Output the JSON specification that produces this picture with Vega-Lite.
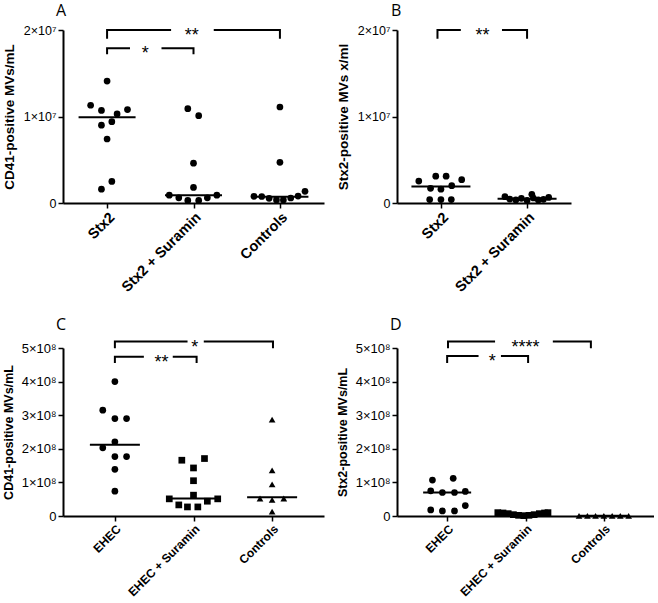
{
  "$schema": "https://vega.github.io/schema/vega-lite/v6.json",
  "background": "white",
  "padding": {"left": 2, "top": 3, "right": 0, "bottom": 0},
  "columns": 2,
  "bounds": "flush",
  "spacing": {"row": 145, "column": 73},
  "config": {
    "font": "Liberation Sans",
    "view": {"stroke": null},
    "axis": {"domainColor": "black", "domainWidth": 2, "tickColor": "black", "tickWidth": 1.5, "tickSize": 5, "labelColor": "black", "titleColor": "black", "labelFont": "Liberation Sans", "titleFont": "Liberation Sans", "grid": false},
    "title": {"font": "Open Sans", "fontWeight": "normal", "fontSize": 16, "anchor": "start", "frame": "group", "color": "black"}
  },
  "datasets": {
    "A_pts": [
      {"g": "Stx2", "o": 0, "v": 14100000}, {"g": "Stx2", "o": -0.19, "v": 11300000}, {"g": "Stx2", "o": -0.065, "v": 10700000}, {"g": "Stx2", "o": 0.116, "v": 10300000}, {"g": "Stx2", "o": 0.236, "v": 10800000}, {"g": "Stx2", "o": -0.065, "v": 9000000}, {"g": "Stx2", "o": 0.055, "v": 9400000}, {"g": "Stx2", "o": 0, "v": 7400000}, {"g": "Stx2", "o": -0.065, "v": 1600000}, {"g": "Stx2", "o": 0.055, "v": 2500000},
      {"g": "Stx2 + Suramin", "o": -0.066, "v": 10900000}, {"g": "Stx2 + Suramin", "o": 0.06, "v": 10100000}, {"g": "Stx2 + Suramin", "o": 0, "v": 4600000}, {"g": "Stx2 + Suramin", "o": 0, "v": 1800000}, {"g": "Stx2 + Suramin", "o": -0.28, "v": 900000}, {"g": "Stx2 + Suramin", "o": -0.17, "v": 600000}, {"g": "Stx2 + Suramin", "o": -0.066, "v": 300000}, {"g": "Stx2 + Suramin", "o": 0.06, "v": 300000}, {"g": "Stx2 + Suramin", "o": 0.16, "v": 600000}, {"g": "Stx2 + Suramin", "o": 0.27, "v": 900000},
      {"g": "Controls", "o": 0, "v": 11100000}, {"g": "Controls", "o": 0, "v": 4700000}, {"g": "Controls", "o": -0.3, "v": 770000}, {"g": "Controls", "o": -0.21, "v": 750000}, {"g": "Controls", "o": -0.125, "v": 540000}, {"g": "Controls", "o": -0.04, "v": 350000}, {"g": "Controls", "o": 0.04, "v": 350000}, {"g": "Controls", "o": 0.125, "v": 580000}, {"g": "Controls", "o": 0.21, "v": 800000}, {"g": "Controls", "o": 0.29, "v": 1350000}
    ],
    "A_med": [{"g": "Stx2", "v": 9900000}, {"g": "Stx2 + Suramin", "v": 900000}, {"g": "Controls", "v": 730000}],
    "A_br": [
      {"s": "t1", "k": 0, "g": "Stx2", "o": 0, "v": 19000000}, {"s": "t1", "k": 1, "g": "Stx2", "o": 0, "v": 20000000}, {"s": "t1", "k": 2, "g": "Stx2", "o": 0.74, "v": 20000000},
      {"s": "t2", "k": 0, "g": "Controls", "o": -0.765, "v": 20000000}, {"s": "t2", "k": 1, "g": "Controls", "o": 0, "v": 20000000}, {"s": "t2", "k": 2, "g": "Controls", "o": 0, "v": 19000000},
      {"s": "b1", "k": 0, "g": "Stx2", "o": 0, "v": 17200000}, {"s": "b1", "k": 1, "g": "Stx2", "o": 0, "v": 17900000}, {"s": "b1", "k": 2, "g": "Stx2", "o": 0.265, "v": 17900000},
      {"s": "b2", "k": 0, "g": "Stx2 + Suramin", "o": -0.37, "v": 17900000}, {"s": "b2", "k": 1, "g": "Stx2 + Suramin", "o": 0, "v": 17900000}, {"s": "b2", "k": 2, "g": "Stx2 + Suramin", "o": 0, "v": 17200000}
    ],
    "A_txt": [{"g": "Stx2 + Suramin", "o": -0.02, "v": 20000000, "t": "**"}, {"g": "Stx2", "o": 0.44, "v": 17900000, "t": "*"}],
    "B_pts": [
      {"g": "Stx2", "o": -0.256, "v": 2540000}, {"g": "Stx2", "o": -0.06, "v": 3100000}, {"g": "Stx2", "o": 0.06, "v": 3100000}, {"g": "Stx2", "o": 0.24, "v": 2700000}, {"g": "Stx2", "o": -0.12, "v": 1700000}, {"g": "Stx2", "o": 0, "v": 1600000}, {"g": "Stx2", "o": 0.125, "v": 2000000}, {"g": "Stx2", "o": -0.13, "v": 400000}, {"g": "Stx2", "o": 0, "v": 400000}, {"g": "Stx2", "o": 0.12, "v": 400000},
      {"g": "Stx2 + Suramin", "o": -0.256, "v": 730000}, {"g": "Stx2 + Suramin", "o": -0.2, "v": 460000}, {"g": "Stx2 + Suramin", "o": -0.13, "v": 350000}, {"g": "Stx2 + Suramin", "o": -0.066, "v": 540000}, {"g": "Stx2 + Suramin", "o": 0, "v": 300000}, {"g": "Stx2 + Suramin", "o": 0.055, "v": 1000000}, {"g": "Stx2 + Suramin", "o": 0.073, "v": 580000}, {"g": "Stx2 + Suramin", "o": 0.13, "v": 350000}, {"g": "Stx2 + Suramin", "o": 0.19, "v": 430000}, {"g": "Stx2 + Suramin", "o": 0.25, "v": 640000}
    ],
    "B_med": [{"g": "Stx2", "v": 1900000}, {"g": "Stx2 + Suramin", "v": 500000}],
    "B_br": [
      {"s": "t1", "k": 0, "g": "Stx2", "o": -0.04, "v": 19000000}, {"s": "t1", "k": 1, "g": "Stx2", "o": -0.04, "v": 20000000}, {"s": "t1", "k": 2, "g": "Stx2", "o": 0.23, "v": 20000000},
      {"s": "t2", "k": 0, "g": "Stx2 + Suramin", "o": -0.29, "v": 20000000}, {"s": "t2", "k": 1, "g": "Stx2 + Suramin", "o": 0, "v": 20000000}, {"s": "t2", "k": 2, "g": "Stx2 + Suramin", "o": 0, "v": 19000000}
    ],
    "B_txt": [{"g": "Stx2", "o": 0.48, "v": 20000000, "t": "**"}],
    "C_pts": [
      {"g": "EHEC", "o": 0, "v": 400000000}, {"g": "EHEC", "o": -0.14, "v": 315000000}, {"g": "EHEC", "o": 0, "v": 290000000}, {"g": "EHEC", "o": 0.135, "v": 290000000}, {"g": "EHEC", "o": 0, "v": 221000000}, {"g": "EHEC", "o": -0.14, "v": 203000000}, {"g": "EHEC", "o": 0, "v": 177000000}, {"g": "EHEC", "o": 0.135, "v": 177000000}, {"g": "EHEC", "o": 0, "v": 139000000}, {"g": "EHEC", "o": 0, "v": 74000000},
      {"g": "EHEC + Suramin", "o": -0.135, "v": 166000000}, {"g": "EHEC + Suramin", "o": 0.127, "v": 171000000}, {"g": "EHEC + Suramin", "o": 0, "v": 143000000}, {"g": "EHEC + Suramin", "o": 0, "v": 105000000}, {"g": "EHEC + Suramin", "o": 0, "v": 62000000}, {"g": "EHEC + Suramin", "o": -0.28, "v": 51000000}, {"g": "EHEC + Suramin", "o": 0.28, "v": 51000000}, {"g": "EHEC + Suramin", "o": 0.16, "v": 44000000}, {"g": "EHEC + Suramin", "o": -0.17, "v": 33000000}, {"g": "EHEC + Suramin", "o": -0.07, "v": 27000000}, {"g": "EHEC + Suramin", "o": 0.05, "v": 27000000},
      {"g": "Controls", "o": 0, "v": 287000000}, {"g": "Controls", "o": 0, "v": 136000000}, {"g": "Controls", "o": 0, "v": 94000000}, {"g": "Controls", "o": -0.14, "v": 52000000}, {"g": "Controls", "o": 0, "v": 48000000}, {"g": "Controls", "o": 0.135, "v": 52000000}, {"g": "Controls", "o": 0, "v": 13000000}
    ],
    "C_med": [{"g": "EHEC", "v": 212000000}, {"g": "EHEC + Suramin", "v": 52000000}, {"g": "Controls", "v": 56000000}],
    "C_br": [
      {"s": "t1", "k": 0, "g": "EHEC", "o": 0, "v": 499000000}, {"s": "t1", "k": 1, "g": "EHEC", "o": 0, "v": 519000000}, {"s": "t1", "k": 2, "g": "EHEC", "o": 0.84, "v": 519000000},
      {"s": "t2", "k": 0, "g": "Controls", "o": -0.79, "v": 519000000}, {"s": "t2", "k": 1, "g": "Controls", "o": 0.01, "v": 519000000}, {"s": "t2", "k": 2, "g": "Controls", "o": 0.01, "v": 499000000},
      {"s": "b1", "k": 0, "g": "EHEC", "o": 0, "v": 455000000}, {"s": "b1", "k": 1, "g": "EHEC", "o": 0, "v": 474000000}, {"s": "b1", "k": 2, "g": "EHEC", "o": 0.335, "v": 474000000},
      {"s": "b2", "k": 0, "g": "EHEC + Suramin", "o": -0.24, "v": 474000000}, {"s": "b2", "k": 1, "g": "EHEC + Suramin", "o": 0.036, "v": 474000000}, {"s": "b2", "k": 2, "g": "EHEC + Suramin", "o": 0.036, "v": 455000000}
    ],
    "C_txt": [{"g": "EHEC + Suramin", "o": 0.015, "v": 519000000, "t": "*"}, {"g": "EHEC", "o": 0.54, "v": 474000000, "t": "**"}],
    "D_pts": [
      {"g": "EHEC", "o": -0.17, "v": 107000000}, {"g": "EHEC", "o": 0.07, "v": 112000000}, {"g": "EHEC", "o": -0.19, "v": 75000000}, {"g": "EHEC", "o": -0.055, "v": 70000000}, {"g": "EHEC", "o": 0.085, "v": 70000000}, {"g": "EHEC", "o": 0.21, "v": 73000000}, {"g": "EHEC", "o": -0.19, "v": 18000000}, {"g": "EHEC", "o": -0.055, "v": 15000000}, {"g": "EHEC", "o": 0.085, "v": 15000000}, {"g": "EHEC", "o": 0.21, "v": 31000000},
      {"g": "EHEC + Suramin", "o": -0.32, "v": 10000000}, {"g": "EHEC + Suramin", "o": -0.26, "v": 9000000}, {"g": "EHEC + Suramin", "o": -0.2, "v": 7000000}, {"g": "EHEC + Suramin", "o": -0.14, "v": 4000000}, {"g": "EHEC + Suramin", "o": -0.08, "v": 2000000}, {"g": "EHEC + Suramin", "o": -0.02, "v": 1000000}, {"g": "EHEC + Suramin", "o": 0.04, "v": 2000000}, {"g": "EHEC + Suramin", "o": 0.1, "v": 4000000}, {"g": "EHEC + Suramin", "o": 0.16, "v": 7000000}, {"g": "EHEC + Suramin", "o": 0.22, "v": 9000000}, {"g": "EHEC + Suramin", "o": 0.26, "v": 10000000},
      {"g": "Controls", "o": -0.287, "v": 500000}, {"g": "Controls", "o": -0.19, "v": 500000}, {"g": "Controls", "o": -0.096, "v": 500000}, {"g": "Controls", "o": 0, "v": 500000}, {"g": "Controls", "o": 0.096, "v": 500000}, {"g": "Controls", "o": 0.19, "v": 500000}, {"g": "Controls", "o": 0.287, "v": 500000}
    ],
    "D_med": [{"g": "EHEC", "v": 70000000}, {"g": "EHEC + Suramin", "v": 4000000}, {"g": "Controls", "v": 500000}],
    "D_br": [
      {"s": "t1", "k": 0, "g": "EHEC", "o": 0.01, "v": 499000000}, {"s": "t1", "k": 1, "g": "EHEC", "o": 0.01, "v": 519000000}, {"s": "t1", "k": 2, "g": "EHEC", "o": 0.554, "v": 519000000},
      {"s": "t2", "k": 0, "g": "Controls", "o": -0.59, "v": 519000000}, {"s": "t2", "k": 1, "g": "Controls", "o": -0.15, "v": 519000000}, {"s": "t2", "k": 2, "g": "Controls", "o": -0.15, "v": 499000000},
      {"s": "b1", "k": 0, "g": "EHEC", "o": 0, "v": 455000000}, {"s": "b1", "k": 1, "g": "EHEC", "o": 0, "v": 476000000}, {"s": "b1", "k": 2, "g": "EHEC", "o": 0.363, "v": 476000000},
      {"s": "b2", "k": 0, "g": "EHEC + Suramin", "o": -0.284, "v": 476000000}, {"s": "b2", "k": 1, "g": "EHEC + Suramin", "o": 0.03, "v": 476000000}, {"s": "b2", "k": 2, "g": "EHEC + Suramin", "o": 0.03, "v": 455000000}
    ],
    "D_txt": [{"g": "EHEC + Suramin", "o": 0, "v": 519000000, "t": "****"}, {"g": "EHEC", "o": 0.52, "v": 476000000, "t": "*"}]
  },
  "concat": [
    {
      "width": 261, "height": 173,
      "title": {"text": "A", "dx": -7, "offset": 5},
      "encoding": {
        "x": {"field": "g", "type": "nominal", "scale": {"type": "point", "domain": ["Stx2", "Stx2 + Suramin", "Controls"], "padding": 0.51}, "axis": {"title": null, "labelAngle": -45, "labelFontWeight": "bold", "labelFontSize": 14.5, "labelPadding": 2}},
        "y": {"field": "v", "type": "quantitative", "scale": {"domain": [0, 20000000], "nice": false}, "axis": {"values": [0, 10000000, 20000000], "labelExpr": "datum.value === 0 ? '0' : format(datum.value / 10000000, 'd') + '×10⁷'", "labelFontSize": 12.5, "labelPadding": 2, "title": "CD41-positive MVs/mL", "titleFontSize": 13.5, "titleFontWeight": "bold", "titlePadding": 7}}
      },
      "layer": [
        {"data": {"name": "A_pts"}, "mark": {"type": "point", "shape": "circle", "filled": true, "opacity": 1, "color": "black", "size": 45}, "encoding": {"xOffset": {"field": "o", "type": "quantitative", "scale": {"domain": [-1, 1], "range": [-86.5, 86.5]}}}},
        {"data": {"name": "A_med"}, "mark": {"type": "tick", "orient": "horizontal", "color": "black", "opacity": 1, "thickness": 2, "size": 57}},
        {"data": {"name": "A_br"}, "mark": {"type": "line", "color": "black", "strokeWidth": 2}, "encoding": {"xOffset": {"field": "o", "type": "quantitative", "scale": {"domain": [-1, 1], "range": [-86.5, 86.5]}}, "detail": {"field": "s"}, "order": {"field": "k"}}},
        {"data": {"name": "A_txt"}, "mark": {"type": "text", "fontSize": 18, "baseline": "middle", "dy": 6, "color": "black"}, "encoding": {"xOffset": {"field": "o", "type": "quantitative", "scale": {"domain": [-1, 1], "range": [-86.5, 86.5]}}, "text": {"field": "t"}}}
      ]
    },
    {
      "width": 174, "height": 173,
      "title": {"text": "B", "dx": -6, "offset": 5},
      "encoding": {
        "x": {"field": "g", "type": "nominal", "scale": {"type": "point", "domain": ["Stx2", "Stx2 + Suramin"], "padding": 0.51}, "axis": {"title": null, "labelAngle": -45, "labelFontWeight": "bold", "labelFontSize": 14.5, "labelPadding": 2}},
        "y": {"field": "v", "type": "quantitative", "scale": {"domain": [0, 20000000], "nice": false}, "axis": {"values": [0, 10000000, 20000000], "labelExpr": "datum.value === 0 ? '0' : format(datum.value / 10000000, 'd') + '×10⁷'", "labelFontSize": 12.5, "labelPadding": 2, "title": "Stx2-positive MVs x/ml", "titleFontSize": 13.5, "titleFontWeight": "bold", "titlePadding": 7}}
      },
      "layer": [
        {"data": {"name": "B_pts"}, "mark": {"type": "point", "shape": "circle", "filled": true, "opacity": 1, "color": "black", "size": 45}, "encoding": {"xOffset": {"field": "o", "type": "quantitative", "scale": {"domain": [-1, 1], "range": [-86, 86]}}}},
        {"data": {"name": "B_med"}, "mark": {"type": "tick", "orient": "horizontal", "color": "black", "opacity": 1, "thickness": 2, "size": 59}},
        {"data": {"name": "B_br"}, "mark": {"type": "line", "color": "black", "strokeWidth": 2}, "encoding": {"xOffset": {"field": "o", "type": "quantitative", "scale": {"domain": [-1, 1], "range": [-86, 86]}}, "detail": {"field": "s"}, "order": {"field": "k"}}},
        {"data": {"name": "B_txt"}, "mark": {"type": "text", "fontSize": 18, "baseline": "middle", "dy": 6, "color": "black"}, "encoding": {"xOffset": {"field": "o", "type": "quantitative", "scale": {"domain": [-1, 1], "range": [-86, 86]}}, "text": {"field": "t"}}}
      ]
    },
    {
      "width": 261, "height": 168,
      "title": {"text": "C", "dx": -7, "offset": 5},
      "encoding": {
        "x": {"field": "g", "type": "nominal", "scale": {"type": "point", "domain": ["EHEC", "EHEC + Suramin", "Controls"], "padding": 0.66}, "axis": {"title": null, "labelAngle": -45, "labelFontWeight": "bold", "labelFontSize": 12, "labelPadding": 2}},
        "y": {"field": "v", "type": "quantitative", "scale": {"domain": [0, 500000000], "nice": false}, "axis": {"values": [0, 100000000, 200000000, 300000000, 400000000, 500000000], "labelExpr": "datum.value === 0 ? '0' : format(datum.value / 100000000, 'd') + '×10⁸'", "labelFontSize": 13, "labelPadding": 2, "title": "CD41-positive MVs/mL", "titleFontSize": 12.5, "titleFontWeight": "bold", "titlePadding": 6}}
      },
      "layer": [
        {"data": {"name": "C_pts"}, "mark": {"type": "point", "filled": true, "opacity": 1, "color": "black", "size": 45}, "encoding": {"xOffset": {"field": "o", "type": "quantitative", "scale": {"domain": [-1, 1], "range": [-78.5, 78.5]}}, "shape": {"field": "g", "type": "nominal", "scale": {"domain": ["EHEC", "EHEC + Suramin", "Controls"], "range": ["circle", "square", "triangle-up"]}, "legend": null}}},
        {"data": {"name": "C_med"}, "mark": {"type": "tick", "orient": "horizontal", "color": "black", "opacity": 1, "thickness": 2, "size": 50}},
        {"data": {"name": "C_br"}, "mark": {"type": "line", "color": "black", "strokeWidth": 2}, "encoding": {"xOffset": {"field": "o", "type": "quantitative", "scale": {"domain": [-1, 1], "range": [-78.5, 78.5]}}, "detail": {"field": "s"}, "order": {"field": "k"}}},
        {"data": {"name": "C_txt"}, "mark": {"type": "text", "fontSize": 18, "baseline": "middle", "dy": 6, "color": "black"}, "encoding": {"xOffset": {"field": "o", "type": "quantitative", "scale": {"domain": [-1, 1], "range": [-78.5, 78.5]}}, "text": {"field": "t"}}}
      ]
    },
    {
      "width": 257, "height": 168,
      "title": {"text": "D", "dx": -7, "offset": 5},
      "encoding": {
        "x": {"field": "g", "type": "nominal", "scale": {"type": "point", "domain": ["EHEC", "EHEC + Suramin", "Controls"], "padding": 0.64}, "axis": {"title": null, "labelAngle": -45, "labelFontWeight": "bold", "labelFontSize": 12, "labelPadding": 2}},
        "y": {"field": "v", "type": "quantitative", "scale": {"domain": [0, 500000000], "nice": false}, "axis": {"values": [0, 100000000, 200000000, 300000000, 400000000, 500000000], "labelExpr": "datum.value === 0 ? '0' : format(datum.value / 100000000, 'd') + '×10⁸'", "labelFontSize": 13, "labelPadding": 2, "title": "Stx2-positive MVs/mL", "titleFontSize": 12.5, "titleFontWeight": "bold", "titlePadding": 6}}
      },
      "layer": [
        {"data": {"name": "D_pts"}, "mark": {"type": "point", "filled": true, "opacity": 1, "color": "black", "size": 45}, "encoding": {"xOffset": {"field": "o", "type": "quantitative", "scale": {"domain": [-1, 1], "range": [-78.5, 78.5]}}, "shape": {"field": "g", "type": "nominal", "scale": {"domain": ["EHEC", "EHEC + Suramin", "Controls"], "range": ["circle", "square", "triangle-up"]}, "legend": null}}},
        {"data": {"name": "D_med"}, "mark": {"type": "tick", "orient": "horizontal", "color": "black", "opacity": 1, "thickness": 2, "size": 48}},
        {"data": {"name": "D_br"}, "mark": {"type": "line", "color": "black", "strokeWidth": 2}, "encoding": {"xOffset": {"field": "o", "type": "quantitative", "scale": {"domain": [-1, 1], "range": [-78.5, 78.5]}}, "detail": {"field": "s"}, "order": {"field": "k"}}},
        {"data": {"name": "D_txt"}, "mark": {"type": "text", "fontSize": 18, "baseline": "middle", "dy": 6, "color": "black"}, "encoding": {"xOffset": {"field": "o", "type": "quantitative", "scale": {"domain": [-1, 1], "range": [-78.5, 78.5]}}, "text": {"field": "t"}}}
      ]
    }
  ]
}
